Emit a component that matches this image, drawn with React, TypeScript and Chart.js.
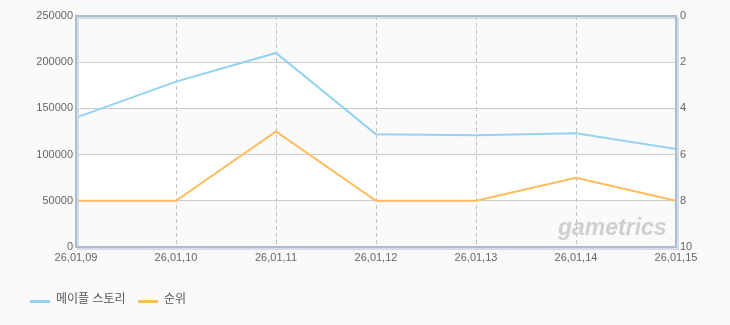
import React, { useEffect, useRef } from "react";
import { Chart, registerables } from "chart.js";

Chart.register(...registerables);

const categories = ["26,01,09", "26,01,10", "26,01,11", "26,01,12", "26,01,13", "26,01,14", "26,01,15"];
const usageValues = [140000, 179000, 210000, 122000, 121000, 123000, 106000];
const rankValues = [8, 8, 5, 8, 8, 7, 8];
const seriesNames = ["메이플 스토리", "순위"];
const seriesColors = ["#93d2f2", "#ffbb5c"];

const FONT = "Arial, 'Liberation Sans', 'Noto Sans CJK KR', sans-serif";

const decorPlugin = {
  id: "decor",
  beforeDraw(chart: any) {
    const { ctx, chartArea: a, scales } = chart;
    ctx.save();
    ctx.fillStyle = "#fafafa";
    ctx.fillRect(0, 0, chart.width, chart.height);
    const y = scales.y;
    const ticks = y.ticks.map((t: any) => t.value);
    for (let i = 0; i < ticks.length - 1; i++) {
      const y1 = y.getPixelForValue(ticks[i]);
      const y2 = y.getPixelForValue(ticks[i + 1]);
      ctx.fillStyle = i % 2 === 0 ? "#fafafa" : "#ffffff";
      ctx.fillRect(a.left, Math.min(y1, y2), a.right - a.left, Math.abs(y2 - y1));
    }
    ctx.restore();
  },
  afterDatasetsDraw(chart: any) {
    const { ctx, chartArea: a } = chart;
    ctx.save();
    ctx.font = "italic bold 23px " + FONT;
    ctx.fillStyle = "rgba(190,190,190,0.7)";
    ctx.textAlign = "left";
    ctx.textBaseline = "alphabetic";
    ctx.fillText("gametrics", a.right - 118, a.bottom - 12);
    ctx.strokeStyle = "rgba(205,214,225,0.8)";
    ctx.lineWidth = 2;
    ctx.strokeRect(a.left + 2, a.top + 2, a.right - a.left, a.bottom - a.top);
    ctx.strokeStyle = "#a9bdd3";
    ctx.lineWidth = 2;
    ctx.strokeRect(a.left, a.top, a.right - a.left, a.bottom - a.top);
    ctx.restore();
  },
  afterDraw(chart: any) {
    const { ctx } = chart;
    ctx.save();
    const items = [
      { x: 30, label: seriesNames[0], color: seriesColors[0] },
      { x: 138, label: seriesNames[1], color: seriesColors[1] },
    ];
    ctx.font = "12px " + FONT;
    ctx.textBaseline = "middle";
    ctx.textAlign = "left";
    for (const it of items) {
      ctx.fillStyle = it.color;
      ctx.fillRect(it.x, 300, 20, 3);
      ctx.fillStyle = "#555555";
      ctx.fillText(it.label, it.x + 26, 300);
    }
    ctx.restore();
  },
};

export default function App() {
  const ref = useRef<HTMLCanvasElement>(null);
  useEffect(() => {
    document.body.style.margin = "0";
    const chart = new Chart(ref.current!, {
      type: "line",
      data: {
        labels: categories,
        datasets: [
          {
            label: seriesNames[0],
            data: usageValues,
            borderColor: seriesColors[0],
            backgroundColor: seriesColors[0],
            borderWidth: 2,
            pointRadius: 0,
            tension: 0,
            yAxisID: "y",
          },
          {
            label: seriesNames[1],
            data: rankValues,
            borderColor: seriesColors[1],
            backgroundColor: seriesColors[1],
            borderWidth: 2,
            pointRadius: 0,
            tension: 0,
            yAxisID: "y1",
          },
        ],
      },
      options: {
        animation: false,
        responsive: false,
        layout: { padding: { top: 16, left: 0, right: 0, bottom: 0 } },
        plugins: { legend: { display: false }, tooltip: { enabled: false } },
        scales: {
          x: {
            offset: false,
            grid: {
              drawTicks: false,
              color: (c: any) => (c.index === 0 || c.index === categories.length - 1 ? "rgba(0,0,0,0)" : "#c4c4c4"),
            },
            border: { display: false, dash: [4, 3] },
            ticks: { color: "#666", font: { size: 11, family: FONT }, padding: 4, maxRotation: 0, autoSkip: false },
            afterFit: (s: any) => { s.height = 78; },
          },
          y: {
            position: "left",
            min: 0,
            max: 250000,
            grid: { drawTicks: false, color: "#cccccc" },
            border: { display: false },
            ticks: {
              stepSize: 50000,
              color: "#666",
              font: { size: 11, family: FONT },
              padding: 3,
              callback: (v: any) => String(v),
            },
            afterFit: (s: any) => { s.width = 76; },
          },
          y1: {
            position: "right",
            reverse: true,
            min: 0,
            max: 10,
            grid: { display: false, drawTicks: false },
            border: { display: false },
            ticks: { stepSize: 2, color: "#666", font: { size: 11, family: FONT }, padding: 4, callback: (v: any) => String(v) },
            afterFit: (s: any) => { s.width = 54; },
          },
        },
      },
      plugins: [decorPlugin],
    });
    (chart.options.scales as any).x.border.dash = [4, 3];
    chart.update();
    return () => chart.destroy();
  }, []);
  return (
    <div style={{ position: "absolute", left: 0, top: 0, width: 730, height: 325 }}>
      <canvas ref={ref} width={730} height={325} style={{ width: 730, height: 325 }} />
    </div>
  );
}
